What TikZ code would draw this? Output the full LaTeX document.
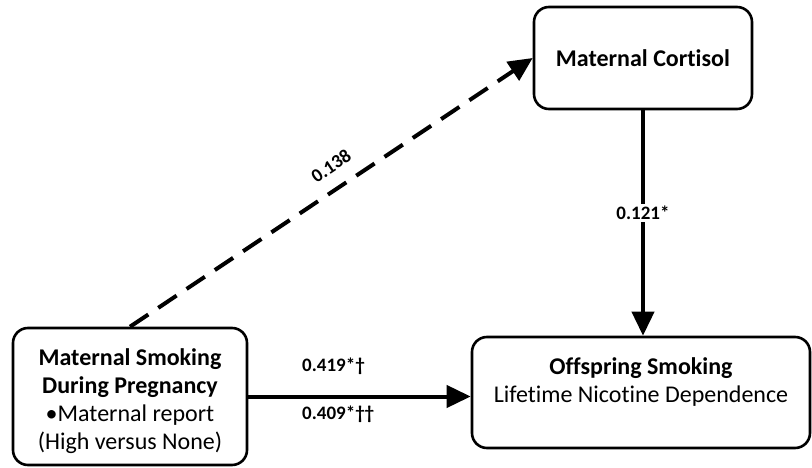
\documentclass[tikz,border=0pt]{standalone}
\usepackage{fontspec}
\setmainfont{Carlito}[Ligatures=CommonOff]
\usetikzlibrary{arrows.meta}
\tikzset{
  box/.style={draw=black, line width=2.6pt, rounded corners=15pt, fill=white},
  conn/.style={line width=4pt, -{Triangle[length=24pt,width=22pt]}},
  dconn/.style={conn, dash pattern=on 22pt off 12pt},
  lbl/.style={font=\fontsize{19}{22}\selectfont\bfseries, inner sep=2pt},
  main/.style={font=\fontsize{24}{28}\selectfont, align=center}
}
\begin{document}
\begin{tikzpicture}[x=1pt,y=-1pt]
\useasboundingbox[fill=white] (0,0) rectangle (812,468);
\node[box, minimum width=218pt, minimum height=102pt, main] (cort) at (643,58) {\textbf{Maternal Cortisol}};
\node[box, minimum width=234pt, minimum height=137pt] (left) at (130,396.5) {};
\node[main] (leftt) at (130,401)
  {\textbf{Maternal Smoking}\\\textbf{During Pregnancy}\\•Maternal report\\(High versus None)};
\node[box, minimum width=338pt, minimum height=111pt] (off) at (641,392.5) {};
\node[main] (offt) at (641,382) {\textbf{Offspring Smoking}\\Lifetime Nicotine Dependence};
\draw[dconn] (left.north) -- (cort.west);
\draw[conn] (cort.south) -- (cort.south |- off.north);
\draw[conn] (left.east) -- (left.east -| off.west);
\node[lbl, rotate=34] (l138) at (331,166) {0.138};
\node[lbl, fill=white] (l121) at (643,213) {0.121*};
\node[lbl, anchor=west] (l419) at (300,366) {0.419*†};
\node[lbl, anchor=west] (l409) at (300,414) {0.409*††};
\end{tikzpicture}
\end{document}
